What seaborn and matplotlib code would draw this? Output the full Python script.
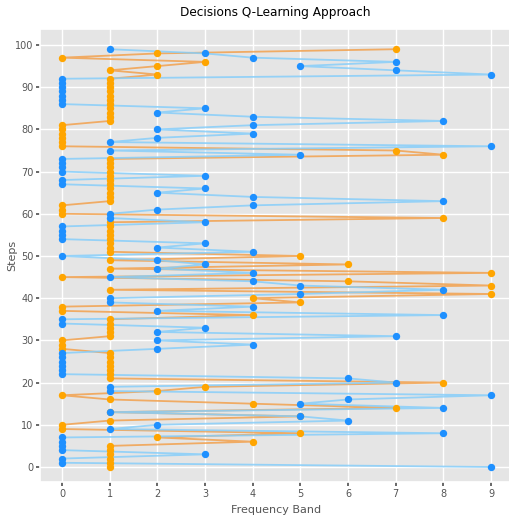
import matplotlib
matplotlib.use("Agg")
import matplotlib.pyplot as plt
import seaborn as sns
import pandas as pd

steps = list(range(100))

blue_band = [9, 0, 0, 3, 0, 0, 0, 0, 8, 1,
             2, 6, 5, 1, 8, 5, 6, 9, 1, 1,
             7, 6, 0, 0, 0, 0, 0, 0, 2, 4,
             2, 7, 2, 3, 0, 0, 8, 2, 4, 1,
             1, 5, 8, 5, 4, 1, 4, 2, 3, 2,
             0, 4, 2, 3, 0, 0, 0, 0, 3, 1,
             1, 2, 4, 8, 4, 2, 3, 0, 0, 3,
             0, 0, 0, 0, 5, 1, 9, 1, 2, 4,
             2, 4, 8, 4, 2, 3, 0, 0, 0, 0,
             0, 0, 0, 9, 7, 5, 7, 4, 3, 1]

orange_band = [1, 1, 1, 1, 1, 1, 4, 2, 5, 0,
               0, 1, 5, 1, 7, 4, 1, 0, 2, 3,
               8, 1, 1, 1, 1, 1, 1, 1, 0, 0,
               0, 1, 1, 1, 1, 1, 4, 0, 0, 5,
               4, 9, 1, 9, 6, 0, 9, 1, 6, 1,
               5, 1, 1, 1, 1, 1, 1, 1, 1, 8,
               0, 0, 0, 1, 1, 1, 1, 1, 1, 1,
               1, 1, 1, 1, 8, 7, 0, 0, 0, 0,
               0, 0, 1, 1, 1, 1, 1, 1, 1, 1,
               1, 1, 1, 2, 1, 2, 3, 0, 2, 7]

x_ticks = list(range(10))
y_ticks = list(range(0, 101, 10))

df_orange = pd.DataFrame({"band": orange_band, "step": steps})
df_blue = pd.DataFrame({"band": blue_band, "step": steps})

sns.set_theme(style="darkgrid", rc={
    "axes.facecolor": "#E5E5E5",
    "grid.color": "white",
    "grid.linewidth": 1.0,
    "axes.edgecolor": "white",
    "xtick.color": "#555555",
    "ytick.color": "#555555",
    "xtick.bottom": True,
    "ytick.left": True,
    "xtick.major.size": 3,
    "ytick.major.size": 3,
    "axes.labelcolor": "#555555",
})
plt.rcParams["font.family"] = ["DejaVu Sans"]

W, H = 510, 519
left_px, right_px, top_px, bottom_px = 40.5, 510, 28.5, 482
fig = plt.figure(figsize=(W / 100, H / 100), dpi=100)
ax = fig.add_axes([left_px / W, 1 - bottom_px / H,
                   (right_px - left_px) / W, (bottom_px - top_px) / H])

sns.lineplot(data=df_orange, x="band", y="step", sort=False, estimator=None,
             color="#F2A14E", alpha=0.85, linewidth=1.3, ax=ax)
sns.scatterplot(data=df_orange, x="band", y="step", color="#FFA500",
                s=28, linewidth=0, ax=ax, zorder=3)
sns.lineplot(data=df_blue, x="band", y="step", sort=False, estimator=None,
             color="#87CEFA", alpha=0.85, linewidth=1.3, ax=ax)
sns.scatterplot(data=df_blue, x="band", y="step", color="#1E90FF",
                s=28, linewidth=0, ax=ax, zorder=4)

px_per_x = (491 - 62) / 9.0
px_per_y = (467 - 45) / 100.0
ax.set_xlim(-(62 - left_px) / px_per_x, 9 + (right_px - 491) / px_per_x)
ax.set_ylim(-(bottom_px - 467) / px_per_y, 100 + (45 - top_px) / px_per_y)
ax.set_xticks(x_ticks)
ax.set_yticks(y_ticks)
ax.tick_params(labelsize=7, length=3, color="#555555", pad=2)
ax.set_xlabel("Frequency Band", fontsize=8, color="#555555")
ax.set_ylabel("Steps", fontsize=8, color="#555555")
ax.xaxis.set_label_coords((276 - left_px) / (right_px - left_px),
                          -(505 - bottom_px) / (bottom_px - top_px))
ax.yaxis.set_label_coords(-(40.5 - 17) / (right_px - left_px), 0.5)
ax.set_title("Decisions Q-Learning Approach", fontsize=8.7, color="black", pad=9)

fig.savefig("out.png", dpi=100)
